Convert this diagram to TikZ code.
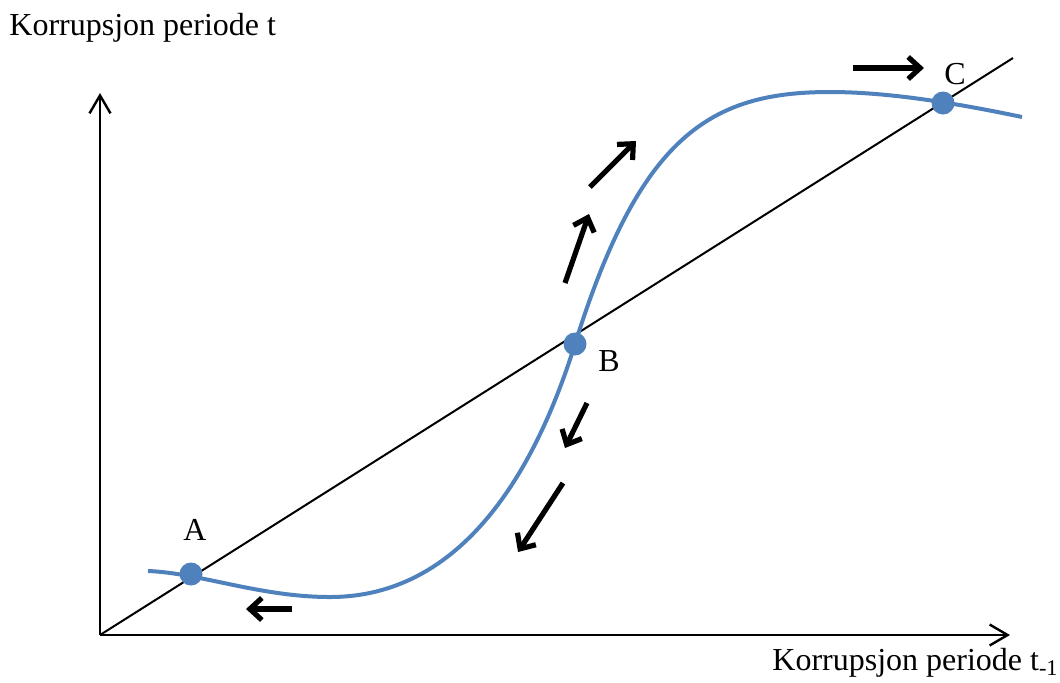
\documentclass[tikz,border=0pt]{standalone}
\usepackage{fontspec}
\setmainfont{Liberation Serif}
\usetikzlibrary{arrows.meta}
\definecolor{curveblue}{HTML}{4F81BD}
\begin{document}
\begin{tikzpicture}
  [x=0.5pt,y=-0.5pt,
   axis/.style={line width=1.2pt,-{Straight Barb[length=9pt,width=10.5pt]}},
   flow/.style={line width=2.6pt,-{Straight Barb[length=6pt,width=11pt]}},
   eq/.style={circle,fill=curveblue,inner sep=0pt,minimum size=11.5pt},
   lbl/.style={font=\fontsize{16pt}{19pt}\selectfont,inner sep=0pt}]
  \useasboundingbox (0,0) rectangle (1060,682);

  \coordinate (O) at (100,635);
  \coordinate (ytop) at (100,93);
  \coordinate (xend) at (1010,635);
  \coordinate (dend) at (1013,58);

  \draw[axis] (O) -- (ytop);
  \draw[axis] (O) -- (xend);
  \draw[line width=1pt] (O) -- (dend);

  % S-curve
  \coordinate (s0) at (148,571);
  \coordinate (lo) at (330,597);
  \coordinate (hi) at (830,92);
  \coordinate (s1) at (1022,117);
  \draw[curveblue,line width=2pt]
    (s0) .. controls (200,573) and (260,597) .. (lo)
         .. controls (470,597) and (540,456) .. (575,344)
         .. controls (640,136) and (710,92) .. (hi)
         .. controls (890,92) and (960,104) .. (s1);

  \node[eq] (A) at (191,574) {};
  \node[eq] (B) at (575,344) {};
  \node[eq] (C) at (943,103) {};

  \node[lbl] (la) at (195,530) {A};
  \node[lbl] (lb) at (609,361) {B};
  \node[lbl] (lc) at (955,74) {C};

  \node[lbl,anchor=base west] (ylab) at (9,35) {Korrupsjon periode t};
  \node[lbl,anchor=base west] (xlab) at (772,670) {Korrupsjon periode t\textsubscript{-1}};

  \coordinate (f1s) at (292,609); \coordinate (f1e) at (246,609);
  \coordinate (f2s) at (590,187); \coordinate (f2e) at (636,141);
  \coordinate (f3s) at (565,283); \coordinate (f3e) at (589,214);
  \coordinate (f4s) at (587,403); \coordinate (f4e) at (565,448);
  \coordinate (f5s) at (563,483); \coordinate (f5e) at (518,552);
  \coordinate (f6s) at (853,68);  \coordinate (f6e) at (924,68);

  \foreach \from/\to in {f1s/f1e, f2s/f2e, f3s/f3e, f4s/f4e, f5s/f5e, f6s/f6e}
    \draw[flow] (\from) -- (\to);
\end{tikzpicture}
\end{document}
